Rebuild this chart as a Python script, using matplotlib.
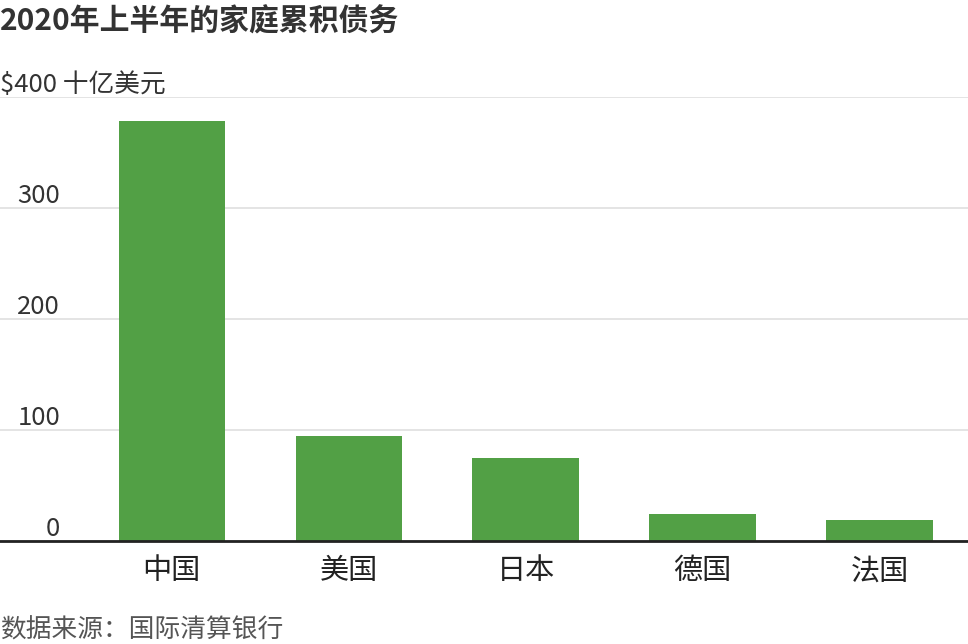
import matplotlib
matplotlib.use("Agg")
import matplotlib.pyplot as plt
import matplotlib.transforms as mtransforms

plt.rcParams['font.family'] = ['Noto Sans CJK SC', 'DejaVu Sans']

countries = ["中国", "美国", "日本", "德国", "法国"]
debt = [378, 95, 75, 24, 19]
yticks = [0, 100, 200, 300, 400]
ytick_labels = ["0", "100", "200", "300", "$400 十亿美元"]

title = "2020年上半年的家庭累积债务"
source = "数据来源：国际清算银行"

W, H = 968, 644
fig = plt.figure(figsize=(W / 100, H / 100), dpi=100)
ax = fig.add_axes([0, 103 / H, 1, (541 - 97) / H])

x = list(range(len(countries)))
ax.bar(x, debt, width=0.6, color="#52a045", zorder=2)

ax.set_xlim(-0.97, 4.5)
ax.set_ylim(0, 400)
ax.set_yticks(yticks)
ax.yaxis.grid(True, color="#e2e2e2", linewidth=1.3, zorder=0)
ax.set_axisbelow(True)
ax.tick_params(axis="y", length=0, labelleft=False)
ax.set_xticks(x)
ax.set_xticklabels(countries, fontsize=21, color="#222222")
ax.tick_params(axis="x", length=0, pad=11)

for s in ["top", "left", "right"]:
    ax.spines[s].set_visible(False)
ax.spines["bottom"].set_color("#222222")
ax.spines["bottom"].set_linewidth(2)
ax.spines["bottom"].set_zorder(3)

trans = mtransforms.blended_transform_factory(ax.transAxes, ax.transData)
offset = mtransforms.offset_copy(trans, fig=fig, x=0, y=-1, units="dots")
for v, lab in zip(yticks, ytick_labels):
    if v == 400:
        ax.text(0, v, lab, transform=offset, ha="left", va="bottom",
                fontsize=18.5, color="#333333")
    else:
        ax.text(60 / W, v, lab, transform=offset, ha="right", va="bottom",
                fontsize=18.5, color="#333333")

fig.text(0, 1 - 7 / H, title, ha="left", va="top", fontsize=21.5,
         fontweight="bold", color="#333333")
fig.text(0, 0, source, ha="left", va="bottom", fontsize=18.5,
         color="#555555")

fig.savefig("out.png", dpi=100)
